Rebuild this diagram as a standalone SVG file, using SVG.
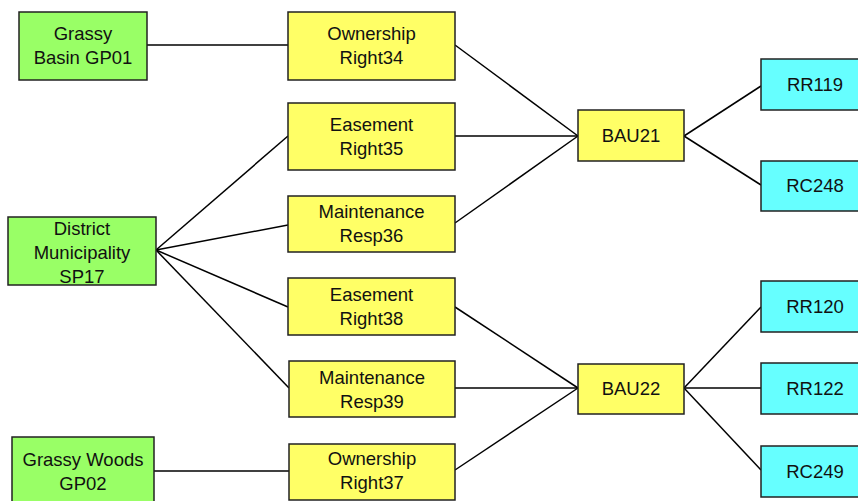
<svg xmlns="http://www.w3.org/2000/svg" width="858" height="501" viewBox="0 0 858 501">
<style>
rect{stroke:#222;stroke-width:1.5}
.g{fill:#99FF66}.y{fill:#FFFF66}.c{fill:#66FFFF}
text{font-family:"Liberation Sans",Arial,sans-serif;font-size:18.5px;fill:#111;text-anchor:middle}
#connectors line{stroke:#000;stroke-width:1.5}
</style>
<rect width="858" height="501" fill="#fff" style="stroke:none"/>
<g id="connectors">
<line x1="147" y1="45" x2="288" y2="45"/>
<line x1="156" y1="250" x2="288" y2="136"/>
<line x1="156" y1="250" x2="288" y2="225"/>
<line x1="156" y1="250" x2="288" y2="307"/>
<line x1="156" y1="250" x2="289" y2="388"/>
<line x1="154" y1="471" x2="289" y2="471"/>
<line x1="455" y1="45" x2="578" y2="136"/>
<line x1="455" y1="136" x2="578" y2="136"/>
<line x1="455" y1="223" x2="578" y2="136"/>
<line x1="684" y1="136" x2="761" y2="86"/>
<line x1="684" y1="136" x2="761" y2="185"/>
<line x1="455" y1="307" x2="578" y2="388"/>
<line x1="455" y1="388" x2="578" y2="388"/>
<line x1="455" y1="470" x2="578" y2="388"/>
<line x1="684" y1="388" x2="761" y2="307"/>
<line x1="684" y1="388" x2="761" y2="388"/>
<line x1="684" y1="388" x2="761" y2="470"/>
</g>
<g id="gp01"><rect class="g" x="19" y="12" width="128" height="68"/><text x="83" y="40">Grassy</text><text x="83" y="64">Basin GP01</text></g>
<g id="sp17"><rect class="g" x="8" y="217" width="148" height="68"/><text x="82" y="235">District</text><text x="82" y="259">Municipality</text><text x="82" y="283">SP17</text></g>
<g id="gp02"><rect class="g" x="12" y="437" width="142" height="70"/><text x="83" y="466">Grassy Woods</text><text x="83" y="490">GP02</text></g>
<g id="own34"><rect class="y" x="288" y="12" width="167" height="68"/><text x="371.5" y="40">Ownership</text><text x="371.5" y="64">Right34</text></g>
<g id="eas35"><rect class="y" x="288" y="103" width="167" height="67"/><text x="371.5" y="131">Easement</text><text x="371.5" y="155">Right35</text></g>
<g id="mnt36"><rect class="y" x="288" y="196" width="167" height="56"/><text x="371.5" y="218">Maintenance</text><text x="371.5" y="242">Resp36</text></g>
<g id="eas38"><rect class="y" x="288" y="278" width="167" height="57"/><text x="371.5" y="301">Easement</text><text x="371.5" y="325">Right38</text></g>
<g id="mnt39"><rect class="y" x="289" y="361" width="166" height="56"/><text x="372" y="384">Maintenance</text><text x="372" y="408">Resp39</text></g>
<g id="own37"><rect class="y" x="289" y="444" width="166" height="56"/><text x="372" y="465">Ownership</text><text x="372" y="489">Right37</text></g>
<g id="bau21"><rect class="y" x="578" y="110" width="106" height="51"/><text x="631" y="142">BAU21</text></g>
<g id="bau22"><rect class="y" x="578" y="364" width="106" height="50"/><text x="631" y="395">BAU22</text></g>
<g id="rr119"><rect class="c" x="761" y="59" width="110" height="51"/><text x="815" y="91">RR119</text></g>
<g id="rc248"><rect class="c" x="761" y="161" width="110" height="50"/><text x="815" y="192">RC248</text></g>
<g id="rr120"><rect class="c" x="761" y="281" width="110" height="51"/><text x="815" y="313">RR120</text></g>
<g id="rr122"><rect class="c" x="761" y="363" width="110" height="51"/><text x="815" y="395">RR122</text></g>
<g id="rc249"><rect class="c" x="761" y="446" width="110" height="51"/><text x="815" y="478">RC249</text></g>
</svg>
